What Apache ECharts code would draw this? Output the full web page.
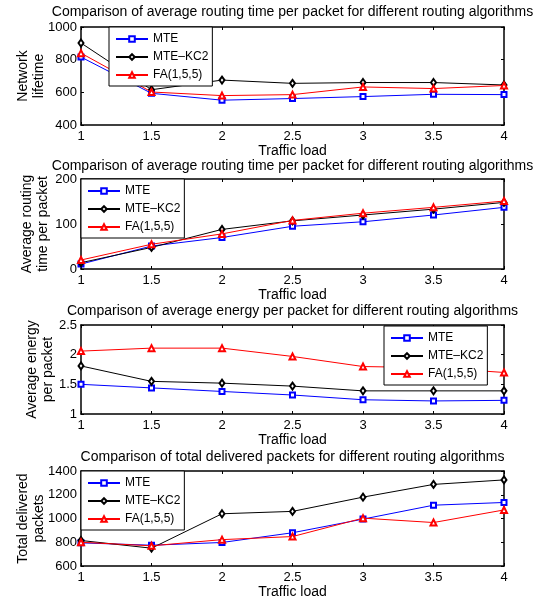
<!DOCTYPE html>
<html>
<head>
<meta charset="utf-8">
<script src="https://cdn.jsdelivr.net/npm/echarts@6/dist/echarts.min.js"></script>
<style>
html, body { margin: 0; background: #fff; }
#chart { width: 544px; height: 600px; }
</style>
</head>
<body>
<div id="chart"></div>
<script>
// traffic load (x axis, shared by all panels)
const loads = [1, 1.5, 2, 2.5, 3, 3.5, 4];
const names = ['MTE', 'MTE–KC2', 'FA(1,5,5)'];

// panel 1: network lifetime
const lifeMTE = [816, 594, 552, 562, 574, 588, 586];
const lifeKC2 = [902, 616, 675, 655, 660, 660, 645];
const lifeFA = [840, 602, 580, 586, 633, 623, 642];

// panel 2: average routing time per packet
const timeMTE = [11, 51, 70, 95, 105, 120, 137];
const timeKC2 = [14, 48, 88, 107, 120, 133, 148];
const timeFA = [20, 55, 78, 108, 124, 137, 151];

// panel 3: average energy per packet
const energyMTE = [1.50, 1.44, 1.38, 1.32, 1.24, 1.22, 1.23];
const energyKC2 = [1.81, 1.55, 1.52, 1.47, 1.39, 1.39, 1.39];
const energyFA = [2.06, 2.11, 2.11, 1.97, 1.80, 1.78, 1.70];

// panel 4: total delivered packets
const delMTE = [795, 775, 798, 880, 995, 1112, 1135];
const delKC2 = [815, 750, 1040, 1060, 1180, 1287, 1325];
const delFA = [800, 770, 822, 848, 1003, 966, 1072];

const FONT = '"Liberation Sans", Arial, Helvetica, sans-serif';
const colors = ['#0000ff', '#000000', '#ff0000'];
const symbols = ['emptyRect', 'emptyDiamond', 'emptyTriangle'];
const symbolSizes = [5, [5, 7], 6];

const panels = [
    {
        title: 'Comparison of average routing time per packet for different routing algorithms',
        yName: 'Network\nlifetime', nameGap: 34,
        min: 400, max: 1000, step: 200,
        top: 27, height: 98, titleTop: 5,
        legendLeft: 109, legendTop: 27,
        data: [lifeMTE, lifeKC2, lifeFA]
    },
    {
        title: 'Comparison of average routing time per packet for different routing algorithms',
        yName: 'Average routing\ntime per packet', nameGap: 30,
        min: 0, max: 200, step: 100,
        top: 179, height: 90, titleTop: 159,
        legendLeft: 81, legendTop: 179,
        data: [timeMTE, timeKC2, timeFA]
    },
    {
        title: 'Comparison of average energy per packet for different routing algorithms',
        yName: 'Average energy\nper packet', nameGap: 25,
        min: 1, max: 2.5, step: 0.5,
        top: 325, height: 89, titleTop: 304,
        legendLeft: 384, legendTop: 326,
        data: [energyMTE, energyKC2, energyFA]
    },
    {
        title: 'Comparison of total delivered packets for different routing algorithms',
        yName: 'Total delivered\npackets', nameGap: 34,
        min: 600, max: 1400, step: 200,
        top: 471, height: 95, titleTop: 450,
        legendLeft: 81, legendTop: 471,
        data: [delMTE, delKC2, delFA]
    }
];

const GRID_LEFT = 81;
const GRID_RIGHT = 40;

const frameLine = { show: true, onZero: false, lineStyle: { color: '#000', width: 1.5 } };
const innerTick = { show: true, inside: true, length: 3, lineStyle: { color: '#000', width: 1 } };

let option = {
    animation: false,
    backgroundColor: '#fff',
    textStyle: { fontFamily: FONT },
    title: [], grid: [], xAxis: [], yAxis: [], legend: [], series: []
};

panels.forEach(function (p, k) {
    option.title.push({
        text: p.title,
        left: GRID_LEFT + (544 - GRID_LEFT - GRID_RIGHT) / 2,
        textAlign: 'center',
        top: p.titleTop,
        padding: 0,
        textStyle: { fontFamily: FONT, fontSize: 14, fontWeight: 'normal', color: '#000' }
    });
    option.grid.push({
        left: GRID_LEFT, right: GRID_RIGHT, top: p.top, height: p.height,
        containLabel: false, outerBoundsMode: 'none'
    });

    // bottom axis with labels
    option.xAxis.push({
        type: 'value', gridIndex: k, position: 'bottom',
        min: 1, max: 4, interval: 0.5,
        name: 'Traffic load', nameLocation: 'middle', nameGap: 19, nameMoveOverlap: false,
        nameTextStyle: { fontFamily: FONT, fontSize: 14, color: '#000' },
        axisLine: frameLine, axisTick: innerTick,
        axisLabel: { fontFamily: FONT, fontSize: 13, color: '#000', margin: 5 },
        splitLine: { show: false }
    });
    // top edge of the box
    option.xAxis.push({
        type: 'value', gridIndex: k, position: 'top',
        min: 1, max: 4, interval: 0.5,
        axisLine: frameLine, axisTick: innerTick,
        axisLabel: { show: false }, splitLine: { show: false }
    });
    option.yAxis.push({
        type: 'value', gridIndex: k, position: 'left',
        min: p.min, max: p.max, interval: p.step,
        name: p.yName, nameLocation: 'middle', nameGap: p.nameGap, nameRotate: 90,
        nameMoveOverlap: false,
        nameTextStyle: { fontFamily: FONT, fontSize: 14, lineHeight: 16, color: '#000', align: 'center' },
        axisLine: frameLine, axisTick: innerTick,
        axisLabel: {
            fontFamily: FONT, fontSize: 13, color: '#000', margin: 4,
            formatter: function (v) { return String(v); }
        },
        splitLine: { show: false }
    });
    // right edge of the box
    option.yAxis.push({
        type: 'value', gridIndex: k, position: 'right',
        min: p.min, max: p.max, interval: p.step,
        axisLine: frameLine, axisTick: innerTick,
        axisLabel: { show: false }, splitLine: { show: false }
    });

    p.data.forEach(function (values, s) {
        option.series.push({
            id: 'p' + k + 's' + s,
            name: names[s],
            type: 'line',
            xAxisIndex: 2 * k,
            yAxisIndex: 2 * k,
            data: loads.map(function (x, i) { return [x, values[i]]; }),
            symbol: symbols[s],
            symbolSize: symbolSizes[s],
            showAllSymbol: true,
            itemStyle: { color: colors[s], borderWidth: 1 },
            lineStyle: { color: colors[s], width: 1 },
            z: 2 + s
        });
    });

    option.legend.push({
        data: names,
        orient: 'vertical',
        left: p.legendLeft,
        top: p.legendTop,
        padding: [6, 4, 5, 6],
        itemGap: 6,
        itemWidth: 32,
        itemHeight: 7,
        itemTextGap: 3,
        backgroundColor: '#fff',
        borderColor: '#000',
        borderWidth: 1,
        selectedMode: false,
        textStyle: { fontFamily: FONT, fontSize: 12, lineHeight: 12, color: '#000' },
        z: 10
    });
});

const chart = echarts.init(document.getElementById('chart'));
chart.setOption(option);
</script>
</body>
</html>
